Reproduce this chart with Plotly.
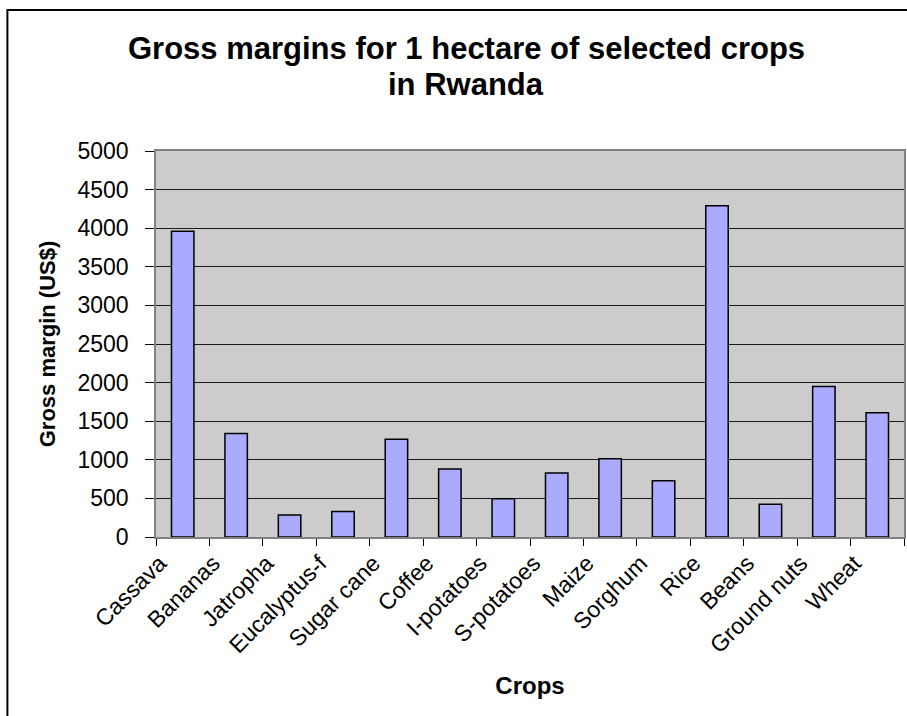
import plotly.graph_objects as go

crops = ["Cassava", "Bananas", "Jatropha", "Eucalyptus-f", "Sugar cane", "Coffee",
         "I-potatoes", "S-potatoes", "Maize", "Sorghum", "Rice", "Beans",
         "Ground nuts", "Wheat"]
gross_margin = [3960, 1340, 285, 330, 1265, 880, 495, 830, 1015, 730, 4290, 425, 1950, 1610]
y_ticks = [0, 500, 1000, 1500, 2000, 2500, 3000, 3500, 4000, 4500, 5000]
title_lines = ["Gross margins for 1 hectare of selected crops", "in Rwanda"]

W, H = 907, 716
ML, MR, MT, MB = 156, 1, 151, 179
PW = W - ML - MR
PH = H - MT - MB
FONT = "Liberation Sans, Arial, sans-serif"

fig = go.Figure()
fig.add_trace(go.Bar(
    x=crops, y=gross_margin,
    marker=dict(color="#AAAAFF", line=dict(color="#000000", width=1.5)),
    width=0.42,
))


def px_x(p):
    return (p - ML) / PW


def px_y(p):
    return (H - MB - p) / PH


# outer chart border (extends past right/bottom edge of the picture)
fig.add_shape(type="rect", xref="paper", yref="paper",
              x0=px_x(7), x1=px_x(915), y0=px_y(725), y1=px_y(10),
              line=dict(color="#000000", width=2), fillcolor="rgba(0,0,0,0)",
              layer="below")

for line_text, top in zip(title_lines, [29, 65]):
    fig.add_annotation(text="<b>" + line_text + "</b>",
                       xref="paper", yref="paper", x=px_x(467), y=px_y(top),
                       xanchor="center", yanchor="top", showarrow=False,
                       font=dict(family=FONT, size=31, color="#000000"))

fig.update_layout(
    width=W, height=H,
    margin=dict(l=ML, r=MR, t=MT, b=MB, pad=0),
    paper_bgcolor="#FFFFFF",
    plot_bgcolor="#CCCCCC",
    showlegend=False,
    font=dict(family=FONT, color="#000000"),
)
fig.update_xaxes(
    type="category",
    tickangle=-45,
    tickson="boundaries",
    ticks="outside", ticklen=7, tickcolor="#000000", tickwidth=1,
    ticklabelshift=-23,
    ticklabelstandoff=2,
    showgrid=False,
    showline=True, linecolor="#808080", linewidth=1.5, mirror=True,
    tickfont=dict(family=FONT, size=23, color="#000000"),
    title=dict(text="<b>Crops</b>", font=dict(family=FONT, size=24, color="#000000"), standoff=20),
    range=[-0.5, len(crops) - 0.5],
)
fig.update_yaxes(
    range=[0, 5000],
    tickvals=y_ticks,
    ticks="outside", ticklen=9, tickcolor="#000000", tickwidth=1,
    ticklabelstandoff=12,
    showgrid=True, gridcolor="#1a1a1a", gridwidth=1,
    showline=True, linecolor="#808080", linewidth=1.5, mirror=True,
    zeroline=False,
    tickfont=dict(family=FONT, size=23, color="#000000"),
    title=dict(text="<b>Gross margin (US$)</b>", font=dict(family=FONT, size=22, color="#000000"), standoff=16),
)

fig.write_html("out.html", config={"displayModeBar": False},
               post_script="document.body.style.margin='0';document.body.style.overflow='hidden';")
